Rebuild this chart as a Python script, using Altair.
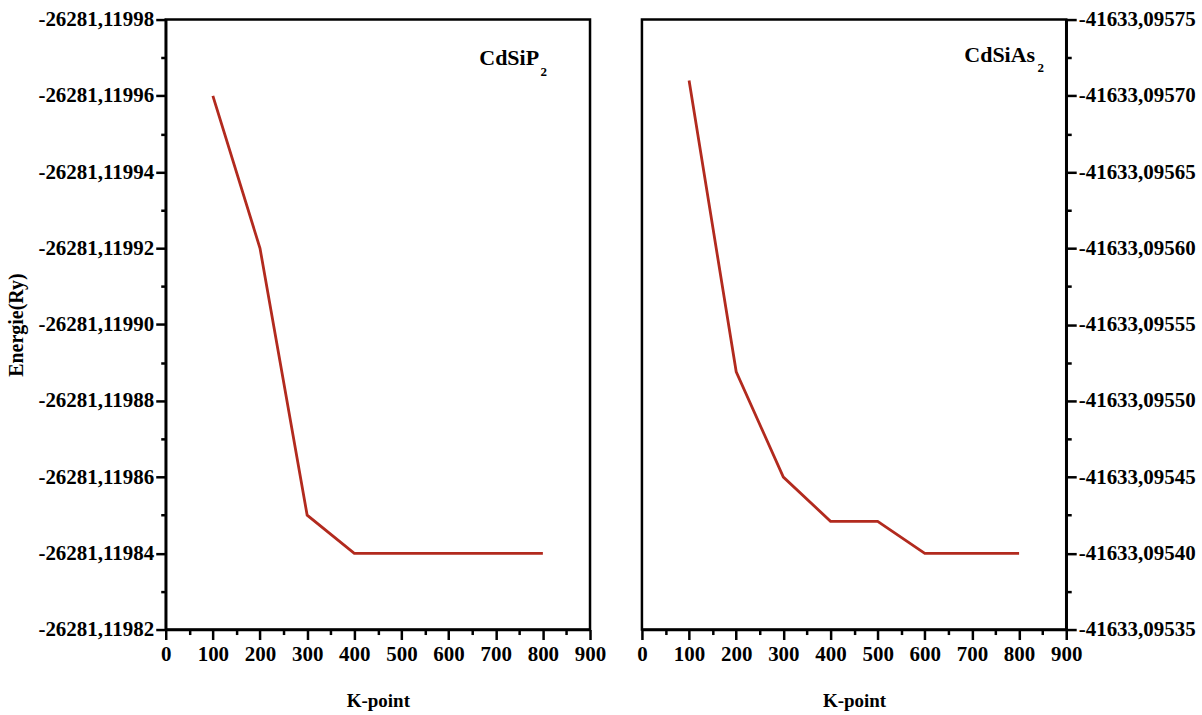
import altair as alt
import pandas as pd

kpoints = [100, 200, 300, 400, 500, 600, 700, 800]
e_cdsip2 = [-26281.11996, -26281.11992, -26281.11985, -26281.11984,
            -26281.11984, -26281.11984, -26281.11984, -26281.11984]
e_cdsias2 = [-41633.095710, -41633.095519, -41633.095450, -41633.095421,
             -41633.095421, -41633.095400, -41633.095400, -41633.095400]

x_major = [0, 100, 200, 300, 400, 500, 600, 700, 800, 900]
x_minor = [50, 150, 250, 350, 450, 550, 650, 750, 850]
y_major_p = [-26281.11982, -26281.11984, -26281.11986, -26281.11988, -26281.11990,
             -26281.11992, -26281.11994, -26281.11996, -26281.11998]
y_minor_p = [-26281.11983, -26281.11985, -26281.11987, -26281.11989,
             -26281.11991, -26281.11993, -26281.11995, -26281.11997]
y_major_as = [-41633.09535, -41633.09540, -41633.09545, -41633.09550, -41633.09555,
              -41633.09560, -41633.09565, -41633.09570, -41633.09575]
y_minor_as = [-41633.095375, -41633.095425, -41633.095475, -41633.095525,
              -41633.095575, -41633.095625, -41633.095675, -41633.095725]

FONT = "Liberation Serif"
RED = "#B22A1E"

df_p = pd.DataFrame({"k": kpoints, "E": e_cdsip2})
df_as = pd.DataFrame({"k": kpoints, "E": e_cdsias2})

lab_p = pd.DataFrame({"k": [792], "E": [-26281.1199682], "t": ["CdSiP"]})
sub_p = pd.DataFrame({"k": [795], "E": [-26281.1199651], "t": ["2"]})
lab_as = pd.DataFrame({"k": [834], "E": [-41633.0957219], "t": ["CdSiAs"]})
sub_as = pd.DataFrame({"k": [839], "E": [-41633.0957154], "t": ["2"]})

AX = dict(grid=False, domainColor="black", domainWidth=2.5, tickColor="black",
          tickWidth=2.5, offset=0)
LAB = dict(labelFont=FONT, labelFontSize=21, labelFontWeight="bold",
           labelColor="black", labelFlush=False)


def panel(df, lab, sub, ymaj, ymin, dom, yorient, ytitle):
    xs = alt.Scale(domain=[0, 900], nice=False)
    ys = alt.Scale(domain=dom, nice=False, zero=False)
    x_axis = alt.Axis(values=x_major, tickSize=10, title="K-point", titleFont=FONT,
                      titleFontSize=19, titleFontWeight="bold", titlePadding=27,
                      labelPadding=4, orient="bottom", **LAB, **AX)
    x_axis_min = alt.Axis(values=x_minor, tickSize=5, labels=False, domain=False,
                          title="", orient="bottom", **AX)
    y_kw = dict(title=ytitle, titleFont=FONT, titleFontSize=20, titleFontWeight="bold",
                titlePadding=11) if ytitle else dict(title="")
    y_axis = alt.Axis(values=ymaj, tickSize=10, orient=yorient, labelPadding=2,
                      labelExpr="'-' + replace(format(abs(datum.value), '.5f'), '.', ',')",
                      **y_kw, **LAB, **AX)
    y_axis_min = alt.Axis(values=ymin, tickSize=5, labels=False, domain=False,
                          title="", orient=yorient, **AX)
    line = alt.Chart(df).mark_line(color=RED, strokeWidth=2.8).encode(
        x=alt.X("k:Q", scale=xs, axis=x_axis),
        y=alt.Y("E:Q", scale=ys, axis=y_axis),
    )
    minor = alt.Chart(df).mark_point(opacity=0).encode(
        x=alt.X("k:Q", scale=xs, axis=x_axis_min),
        y=alt.Y("E:Q", scale=ys, axis=y_axis_min),
    )
    t1 = alt.Chart(lab).mark_text(font=FONT, fontSize=22, fontWeight="bold",
                                  align="right", baseline="alphabetic", color="black").encode(
        x=alt.X("k:Q", scale=xs, axis=None), y=alt.Y("E:Q", scale=ys, axis=None), text="t:N")
    t2 = alt.Chart(sub).mark_text(font=FONT, fontSize=13, fontWeight="bold",
                                  align="left", baseline="alphabetic", color="black").encode(
        x=alt.X("k:Q", scale=xs, axis=None), y=alt.Y("E:Q", scale=ys, axis=None), text="t:N")
    return alt.layer(line, minor, t1, t2).resolve_axis(
        x="independent", y="independent").properties(width=425, height=611)


left = panel(df_p, lab_p, sub_p, y_major_p, y_minor_p,
             [-26281.11982, -26281.11998], "left", "Energie(Ry)")
right = panel(df_as, lab_as, sub_as, y_major_as, y_minor_as,
              [-41633.09535, -41633.09575], "right", None)

chart = alt.hconcat(left, right, spacing=28).configure_view(
    stroke="black", strokeWidth=2.5
).properties(padding={"left": 5, "top": 6, "right": 5, "bottom": 0}, background="white")

chart.save("out.html", embed_options={"renderer": "svg", "actions": False})
